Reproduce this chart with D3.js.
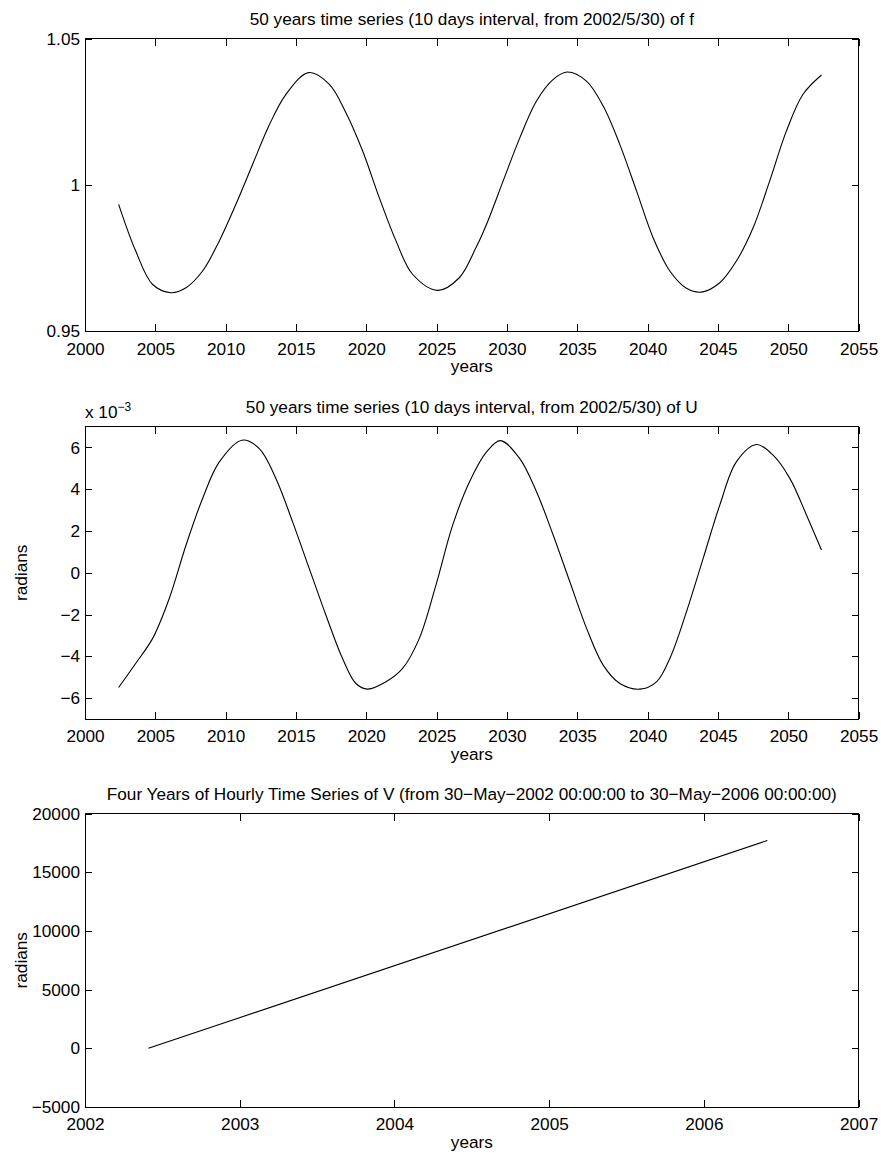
<!DOCTYPE html>
<html lang="en">
<head>
    <meta charset="utf-8">
    <title>f, U and V time series</title>
    <script type="text/javascript" src="https://cdn.jsdelivr.net/npm/d3@7/dist/d3.min.js"></script>
    <style>
      body { margin: 0; background: #fff; }
      svg text { font-family: "Liberation Sans", Arial, Helvetica, sans-serif; fill: #000; }
      .axis path { display: none; }
      .axis line { stroke: #000; shape-rendering: crispEdges; }
    </style>
</head>

<body>
  <script>
    var w = 881;
    var h = 1154;
    var fontSize = 17.2;

    // ---- panel 1 : f, 10 day interval from 2002/5/30
    var fYears  = [2002.39, 2003.6, 2004.81, 2006.11, 2007.18, 2008.36, 2009.55, 2010.73, 2011.92, 2013.1,
                   2014.29, 2015.9, 2017.37, 2018.55, 2019.74, 2020.92, 2022.11, 2023.29, 2025.07, 2026.61,
                   2027.8, 2028.55, 2029.73, 2030.92, 2032.1, 2033.29, 2034.3, 2035.65, 2036.84, 2038.02,
                   2039.21, 2040.39, 2041.58, 2042.76, 2043.83, 2045.13, 2046.31, 2047.5, 2048.68, 2049.87,
                   2051.05, 2052.36];
    var fValues = [0.9934, 0.9775, 0.966, 0.9632, 0.9649, 0.9706, 0.9809, 0.9934, 1.0071, 1.0205,
                   1.031, 1.0384, 1.0344, 1.0247, 1.0116, 0.9957, 0.9809, 0.9695, 0.964, 0.9683,
                   0.9786, 0.9866, 1.0014, 1.0162, 1.0287, 1.0361, 1.0386, 1.0355, 1.027, 1.0139,
                   0.998, 0.982, 0.9706, 0.9647, 0.9634, 0.9666, 0.974, 0.9854, 1.0014, 1.0185,
                   1.031, 1.0376];
    var fYTicks = [0.95, 1, 1.05];
    var fYTickLabels = ["0.95", "1", "1.05"];

    // ---- panel 2 : U (radians, values in units of 10^-3)
    var uYears  = [2002.39, 2003.6, 2004.81, 2005.99, 2007.18, 2008.36, 2009.55, 2011.16, 2012.39, 2013.57,
                   2014.76, 2015.94, 2017.13, 2018.31, 2019.26, 2020.09, 2021.4, 2022.58, 2023.77, 2024.95,
                   2026.14, 2027.34, 2028.55, 2029.54, 2030.91, 2032.1, 2033.29, 2034.47, 2035.66, 2036.84,
                   2038.03, 2039.45, 2040.63, 2041.58, 2042.76, 2043.95, 2045.13, 2046.31, 2047.74, 2048.92,
                   2050.11, 2051.3, 2052.36];
    var uValues = [-5.49, -4.34, -3.14, -1.23, 1.32, 3.56, 5.31, 6.35, 5.95, 4.52,
                   2.44, 0.21, -2.03, -4.10, -5.30, -5.57, -5.22, -4.58, -3.14, -0.59,
                   2.28, 4.36, 5.79, 6.33, 5.47, 3.88, 1.80, -0.43, -2.66, -4.42,
                   -5.30, -5.57, -5.22, -4.10, -1.87, 0.69, 3.24, 5.31, 6.14, 5.63,
                   4.52, 2.76, 1.09];
    var uYTicks = [-6, -4, -2, 0, 2, 4, 6];

    // ---- panel 3 : V, hourly over four years
    var vYears  = [2002.41, 2006.41];
    var vValues = [0, 17700];
    var vYTicks = [-5000, 0, 5000, 10000, 15000, 20000];

    var xTicks50 = [2000, 2005, 2010, 2015, 2020, 2025, 2030, 2035, 2040, 2045, 2050, 2055];
    var xTicks4  = [2002, 2003, 2004, 2005, 2006, 2007];

    var titles = [
      "50 years time series (10 days interval, from 2002/5/30) of f",
      "50 years time series (10 days interval, from 2002/5/30) of U",
      "Four Years of Hourly Time Series of V (from 30\u2212May\u22122002 00:00:00 to 30\u2212May\u22122006 00:00:00)"
    ];

    var minusFmt = function(d) { return String(d).replace("-", "\u2212"); };

    var svg = d3.select("body")
                .append("svg")
                .attr("width", w)
                .attr("height", h);

    svg.append("rect")
       .attr("width", w)
       .attr("height", h)
       .attr("fill", "#fff");

    function drawPanel(p) {
      var x = d3.scaleLinear().domain(p.xDomain).range([85, 858.6]);
      var y = d3.scaleLinear().domain(p.yDomain).range([p.bottom, p.top]);

      var g = svg.append("g").attr("class", "panel");

      // ticks on all four sides, pointing in (matlab style)
      g.append("g").attr("class", "axis")
        .attr("transform", "translate(0," + p.bottom + ")")
        .call(d3.axisBottom(x).tickValues(p.xTicks).tickSizeInner(-7).tickSizeOuter(0).tickPadding(11).tickFormat(d3.format("d")))
        .selectAll("text").attr("font-size", fontSize);

      g.append("g").attr("class", "axis")
        .attr("transform", "translate(0," + p.top + ")")
        .call(d3.axisTop(x).tickValues(p.xTicks).tickSizeInner(-7).tickSizeOuter(0).tickFormat(""));

      g.append("g").attr("class", "axis")
        .attr("transform", "translate(85,0)")
        .call(d3.axisLeft(y).tickValues(p.yTicks).tickSizeInner(-7).tickSizeOuter(0).tickPadding(5).tickFormat(p.yFormat))
        .selectAll("text").attr("font-size", fontSize);

      g.append("g").attr("class", "axis")
        .attr("transform", "translate(858.6,0)")
        .call(d3.axisRight(y).tickValues(p.yTicks).tickSizeInner(-7).tickSizeOuter(0).tickFormat(""));

      g.append("rect")
       .attr("x", x.range()[0])
       .attr("y", p.top)
       .attr("width", x.range()[1] - x.range()[0])
       .attr("height", p.bottom - p.top)
       .attr("fill", "none")
       .attr("stroke", "#000")
       .attr("stroke-width", 1)
       .attr("shape-rendering", "crispEdges");

      var line = d3.line()
                   .x(function(d) { return x(d[0]); })
                   .y(function(d) { return y(d[1]); })
                   .curve(d3.curveCatmullRom.alpha(0.5));

      g.append("path")
       .datum(d3.zip(p.xs, p.ys))
       .attr("d", line)
       .attr("fill", "none")
       .attr("stroke", "#000")
       .attr("stroke-width", 1.1);

      var cx = (x.range()[0] + x.range()[1]) / 2;

      g.append("text")
       .attr("x", cx)
       .attr("y", p.top - 14)
       .attr("text-anchor", "middle")
       .attr("font-size", fontSize)
       .text(p.title);

      g.append("text")
       .attr("x", cx)
       .attr("y", p.bottom + 41)
       .attr("text-anchor", "middle")
       .attr("font-size", fontSize)
       .text("years");

      if (p.yLabel) {
        g.append("text")
         .attr("transform", "translate(27," + ((p.top + p.bottom) / 2) + ") rotate(-90)")
         .attr("text-anchor", "middle")
         .attr("font-size", fontSize)
         .text(p.yLabel);
      }
      return g;
    }

    drawPanel({
      xs: fYears, ys: fValues, xDomain: [2000, 2055], yDomain: [0.95, 1.05],
      top: 38.7, bottom: 331.3, xTicks: xTicks50, yTicks: fYTicks,
      yFormat: function(d, i) { return fYTickLabels[i]; },
      title: titles[0]
    });

    var p2 = drawPanel({
      xs: uYears, ys: uValues, xDomain: [2000, 2055], yDomain: [-7, 7],
      top: 426.6, bottom: 719, xTicks: xTicks50, yTicks: uYTicks,
      yFormat: minusFmt, title: titles[1], yLabel: "radians"
    });

    // exponent label above the U axis
    var expo = p2.append("text")
                 .attr("x", 85)
                 .attr("y", 418)
                 .attr("font-size", fontSize);
    expo.append("tspan").text("x 10");
    expo.append("tspan").attr("dy", -7).attr("font-size", 12).text("\u22123");

    drawPanel({
      xs: vYears, ys: vValues, xDomain: [2002, 2007], yDomain: [-5000, 20000],
      top: 813.5, bottom: 1107, xTicks: xTicks4, yTicks: vYTicks,
      yFormat: minusFmt, title: titles[2], yLabel: "radians"
    });
  </script>
</body>
</html>
